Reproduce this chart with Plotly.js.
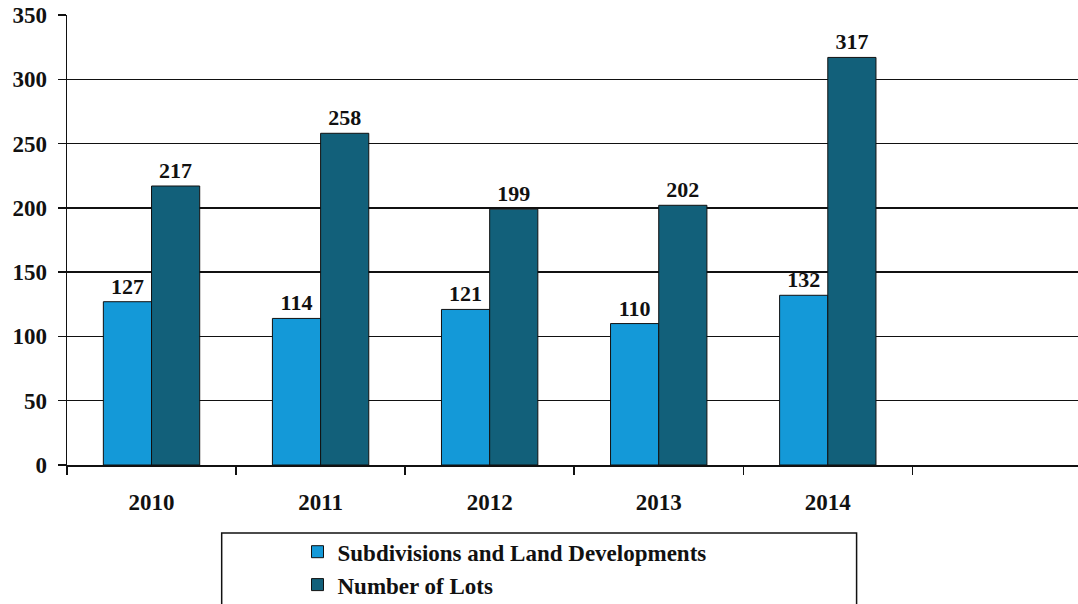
<!DOCTYPE html>
<html>
<head>
<meta charset="utf-8">
<script src="https://cdn.plot.ly/plotly-3.0.1.min.js"></script>
<style>html,body{margin:0;padding:0;background:#fff;}#chart{width:1078px;height:604px;}</style>
</head>
<body>
<div id="chart"></div>
<script>
const years = ['2010', '2011', '2012', '2013', '2014'];
const subdivisions = [127, 114, 121, 110, 132];
const lots = [217, 258, 199, 202, 317];
const seriesNames = ['Subdivisions and Land Developments', 'Number of Lots'];
const yTicks = [0, 50, 100, 150, 200, 250, 300, 350];

const serif = 'Liberation Serif, Times New Roman, serif';

const traces = [
  {
    type: 'bar', x: years, y: subdivisions, name: seriesNames[0], legendgroup: 'a',
    marker: {color: '#1499d8', line: {color: '#111', width: 1}},
    text: subdivisions.map(String), textposition: 'outside', cliponaxis: false, constraintext: 'none',
    textfont: {family: serif, size: 22, color: '#111', weight: 'bold'}
  },
  {
    type: 'bar', x: years, y: lots, name: seriesNames[1], legendgroup: 'b',
    marker: {color: '#12607a', line: {color: '#111', width: 1}},
    text: lots.map(String), textposition: 'outside', cliponaxis: false, constraintext: 'none',
    textfont: {family: serif, size: 22, color: '#111', weight: 'bold'}
  }
];

const layout = {
  width: 1078, height: 604,
  margin: {l: 67, r: 0, t: 15, b: 139, autoexpand: false},
  paper_bgcolor: '#fff', plot_bgcolor: '#fff',
  barmode: 'group', bargap: 0.43, bargroupgap: 0,
  font: {family: serif, color: '#111'},
  xaxis: {
    type: 'category', range: [-0.5, 5.48], fixedrange: true, automargin: false,
    showline: true, linecolor: '#111', linewidth: 1.5,
    ticks: 'outside', tickson: 'boundaries', ticklen: 8, tickcolor: '#111', tickwidth: 1.5,
    tickfont: {family: serif, size: 23, weight: 'bold', color: '#111'},
    showgrid: false, zeroline: false, ticklabelstandoff: 16
  },
  yaxis: {
    range: [0, 350], tickvals: yTicks, ticktext: yTicks.map(String), automargin: false,
    showline: true, linecolor: '#111', linewidth: 1.5,
    ticks: 'outside', ticklen: 8, tickcolor: '#111', tickwidth: 1.5,
    showgrid: true, gridcolor: '#111', gridwidth: 1.5, zeroline: false,
    tickfont: {family: serif, size: 23, weight: 'bold', color: '#111'}, ticklabelstandoff: 6
  },
  showlegend: true,
  legend: {
    x: 0.228, y: -0.145, xanchor: 'left', yanchor: 'top',
    bgcolor: 'rgba(0,0,0,0)', borderwidth: 0, traceorder: 'grouped', tracegroupgap: 0,
    font: {family: serif, size: 23, weight: 'bold', color: '#111'}
  },
  shapes: [
    {type: 'rect', xref: 'paper', yref: 'paper', x0: 0.153, x1: 0.781, y0: -0.151, y1: -0.36,
     line: {color: '#111', width: 1.5}, fillcolor: 'rgba(0,0,0,0)', layer: 'below'}
  ]
};

Plotly.newPlot('chart', traces, layout, {displayModeBar: false, staticPlot: true});
</script>
</body>
</html>
